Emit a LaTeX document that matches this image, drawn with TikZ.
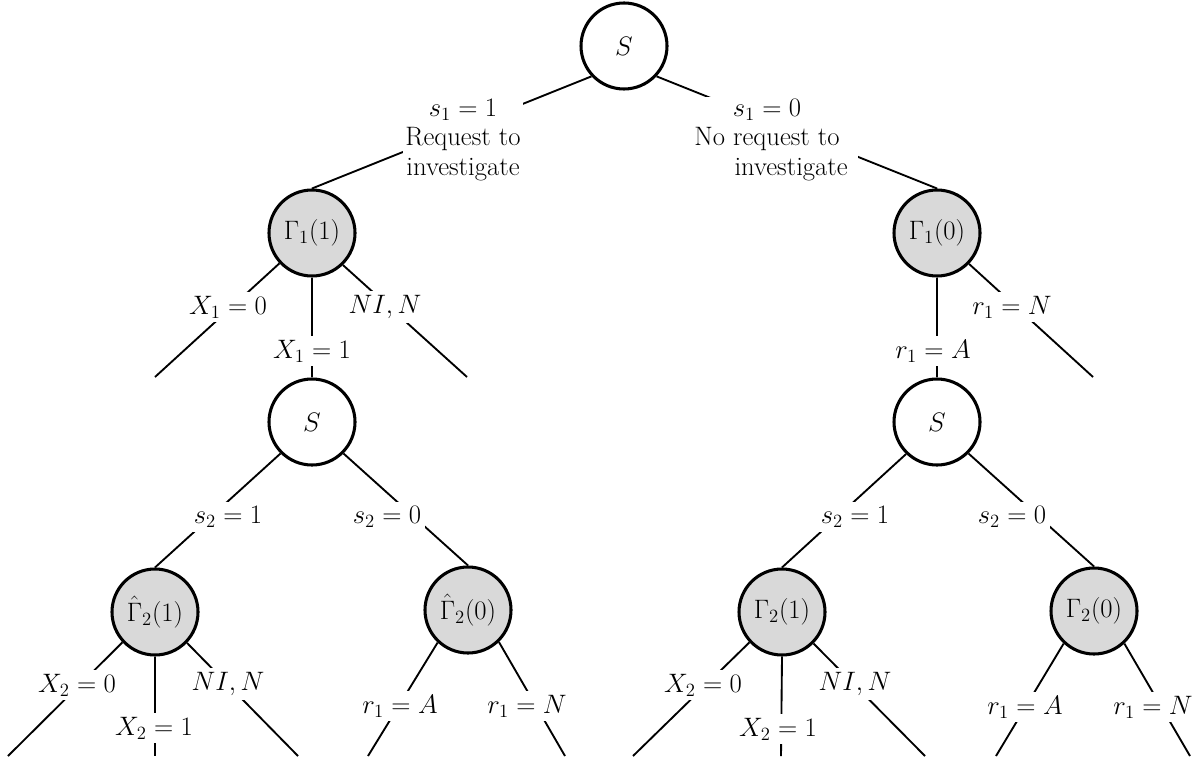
\RequirePackage{fix-cm}
\documentclass[tikz,border=0pt]{standalone}
\begin{document}
\begin{tikzpicture}[x=0.75pt,y=-0.75pt,
  font=\fontsize{20}{22}\selectfont,
  state/.style={circle,draw=black,line width=2.3pt,minimum size=64.5pt,inner sep=0pt},
  chance/.style={state,fill=white},
  player/.style={state,fill=gray!30},
  conn/.style={draw=black,line width=1.4pt},
  lbl/.style={fill=white,inner sep=3pt}]
\useasboundingbox (0,0) rectangle (1194,763);

% nodes
\node[chance] (S0)  at (624,46)  {$S$};
\node[player] (G11) at (312,233) {$\Gamma_1(1)$};
\node[player] (G10) at (937,233) {$\Gamma_1(0)$};
\node[chance] (SL)  at (312,422) {$S$};
\node[chance] (SR)  at (937,422) {$S$};
\node[player] (H21) at (155,612) {$\hat{\Gamma}_2(1)$};
\node[player] (H20) at (468,610) {$\hat{\Gamma}_2(0)$};
\node[player] (G21) at (782,612) {$\Gamma_2(1)$};
\node[player] (G20) at (1094,611) {$\Gamma_2(0)$};

% free ends
\coordinate (e1) at (155,377);
\coordinate (e2) at (467,377);
\coordinate (e3) at (1093,377);
\coordinate (a1) at (8,756);
\coordinate (a2) at (155,756);
\coordinate (a3) at (298,756);
\coordinate (b1) at (368,756);
\coordinate (b2) at (565,756);
\coordinate (c1) at (633,756);
\coordinate (c2) at (781,756);
\coordinate (c3) at (925,756);
\coordinate (d1) at (996,756);
\coordinate (d2) at (1190,756);

% connectors
\draw[conn] (S0.-137) -- (G11.north);
\draw[conn] (S0.-43) -- (G10.north);
\draw[conn] (G11.-137) -- (e1);
\draw[conn] (G11.south) -- (SL.north);
\draw[conn] (G11.-46) -- (e2);
\draw[conn] (G10.south) -- (SR.north);
\draw[conn] (G10.-44) -- (e3);
\draw[conn] (SL.-135) -- (H21.north);
\draw[conn] (SL.-45) -- (H20.north);
\draw[conn] (SR.-134) -- (G21.north);
\draw[conn] (SR.-45) -- (G20.north);
\draw[conn] (H21.-137) -- (a1);
\draw[conn] (H21.south) -- (a2);
\draw[conn] (H21.-44) -- (a3);
\draw[conn] (H20.-133) -- (b1);
\draw[conn] (H20.-46) -- (b2);
\draw[conn] (G21.-137) -- (c1);
\draw[conn] (G21.south) -- (c2);
\draw[conn] (G21.-45) -- (c3);
\draw[conn] (G20.-133) -- (d1);
\draw[conn] (G20.-47) -- (d2);

% labels
\node[lbl,align=center,inner sep=2pt] (l1) at (463,140) {$s_1=1$\\Request to\\investigate};
\node[lbl,align=center,inner xsep=8pt,inner ysep=2pt] (l2) at (767,140) {$s_1=0$\\No request to\\\phantom{No r}investigate};
\node[lbl] (l3) at (228,307) {$X_1=0$};
\node[lbl] (l4) at (312,351) {$X_1=1$};
\node[lbl] (l5) at (385,307) {$NI,N$};
\node[lbl] (l6) at (933,351) {$r_1=A$};
\node[lbl] (l7) at (1012,307) {$r_1=N$};
\node[lbl] (l8) at (228,517) {$s_2=1$};
\node[lbl] (l9) at (387,517) {$s_2=0$};
\node[lbl] (l10) at (855,517) {$s_2=1$};
\node[lbl] (l11) at (1012,517) {$s_2=0$};
\node[lbl] (l12) at (77,685) {$X_2=0$};
\node[lbl] (l13) at (154,728) {$X_2=1$};
\node[lbl] (l14) at (228,684) {$NI,N$};
\node[lbl] (l15) at (400,706) {$r_1=A$};
\node[lbl] (l16) at (527,706) {$r_1=N$};
\node[lbl] (l17) at (703,685) {$X_2=0$};
\node[lbl] (l18) at (778,729) {$X_2=1$};
\node[lbl] (l19) at (855,684) {$NI,N$};
\node[lbl] (l20) at (1025,707) {$r_1=A$};
\node[lbl] (l21) at (1153,707) {$r_1=N$};
\end{tikzpicture}
\end{document}
